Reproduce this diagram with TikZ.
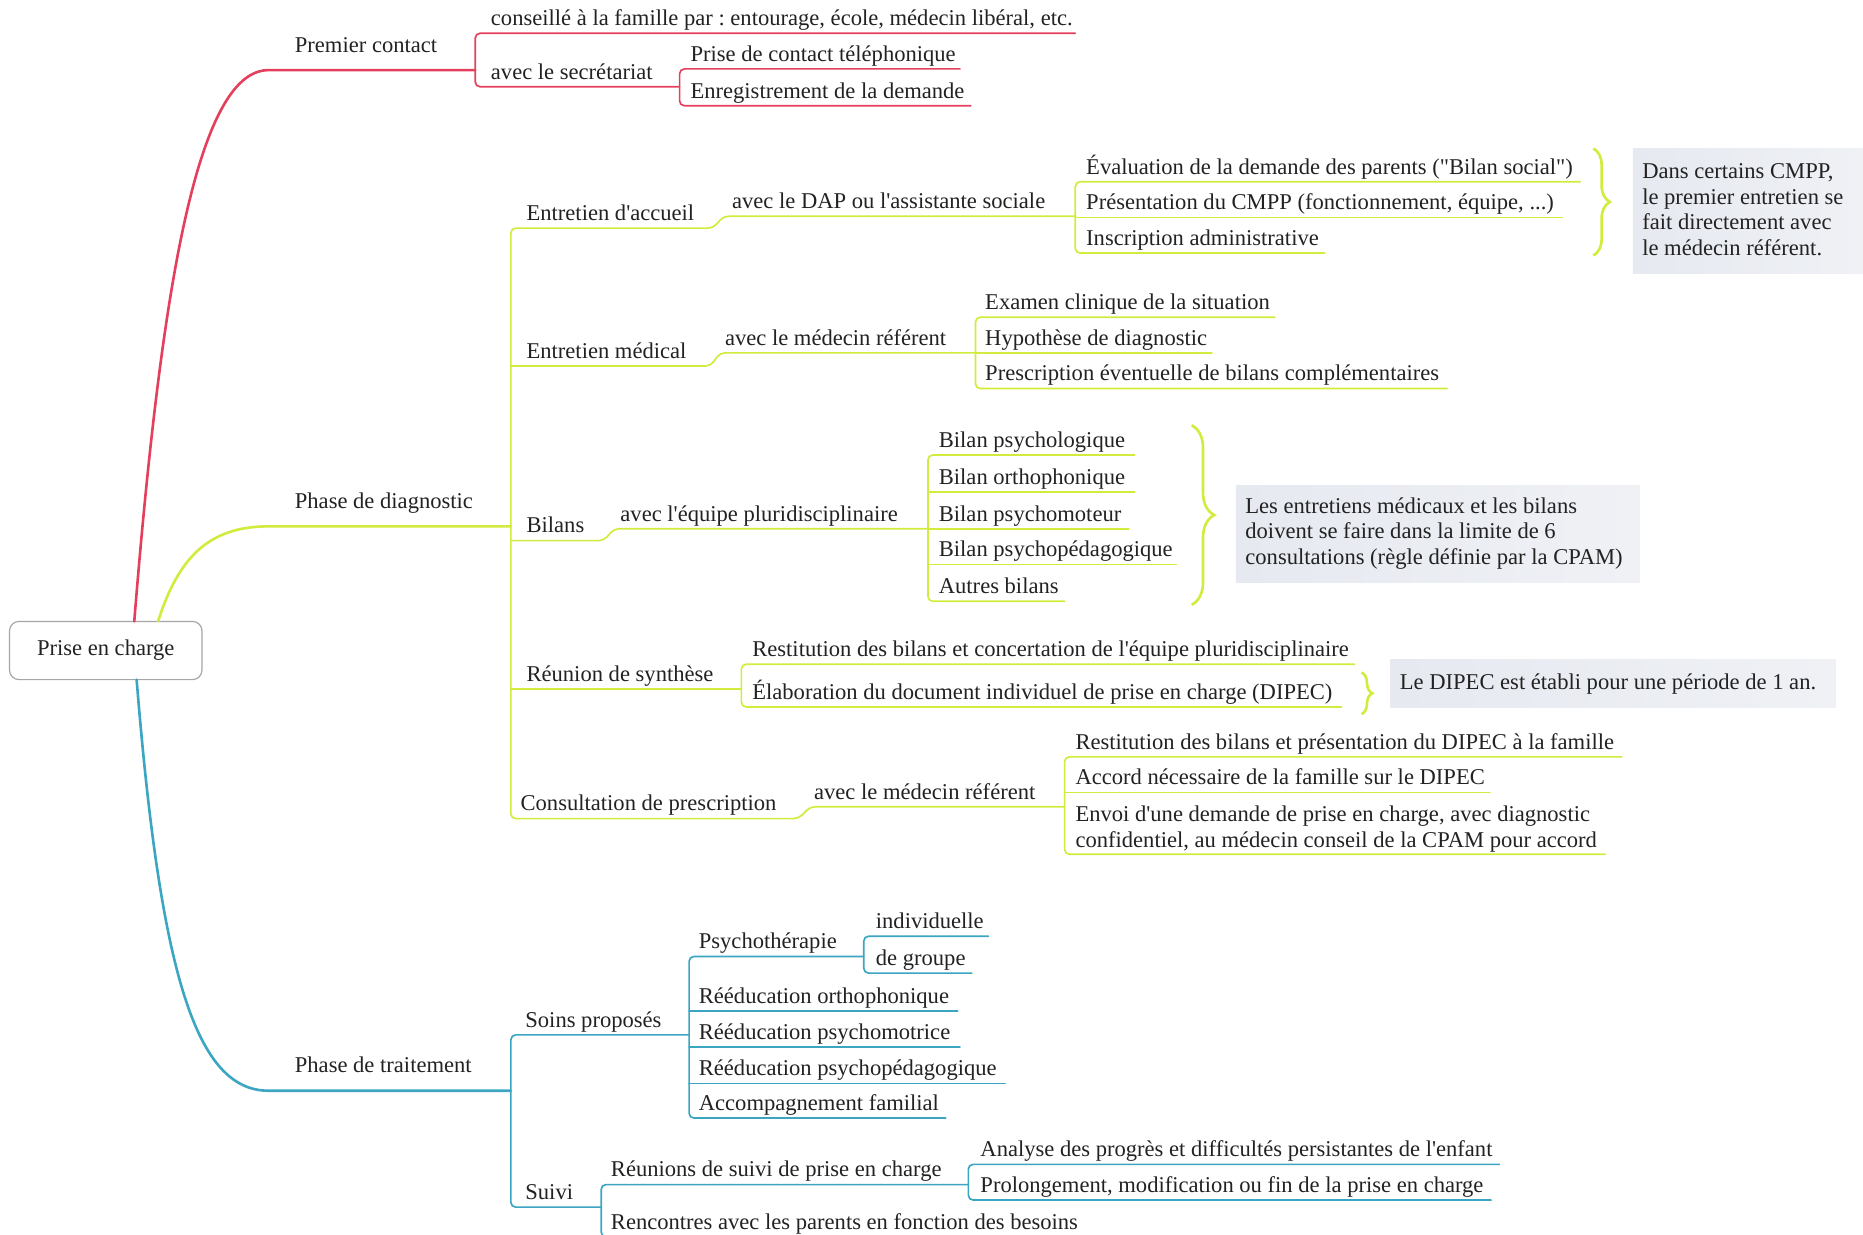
\documentclass[tikz,border=0pt]{standalone}
\usepackage{fontspec}
\setmainfont{Liberation Serif}[Ligatures=TeXOff]
\usetikzlibrary{decorations.pathreplacing}
\definecolor{cred}{HTML}{E4405E}
\definecolor{cyel}{HTML}{D3EB3C}
\definecolor{cteal}{HTML}{3CA5C2}
\definecolor{tcol}{HTML}{222222}
\definecolor{nfillA}{HTML}{E6E9F0}
\definecolor{nfillB}{HTML}{EFF1F5}
\frenchspacing
\tikzset{
  txt/.style={anchor=base west, inner sep=0pt, font=\fontsize{19}{21.5}\selectfont, text=tcol},
  mtxt/.style={txt, anchor=north west, align=left},
  ln/.style={line width=1.4pt, rounded corners=4pt, line cap=round},
  lr/.style={ln, draw=cred},
  ly/.style={ln, draw=cyel},
  lt/.style={ln, draw=cteal},
  trunk/.style={line width=2.2pt},
  notebox/.style={anchor=north west, inner sep=0pt, left color=nfillA, right color=nfillB, draw=none},
  bracebr/.style={decorate, line width=2.2pt, draw=cyel},
  rootbox/.style={draw=black!35, line width=1pt, rounded corners=8pt, fill=white, minimum width=162pt, minimum height=49pt, inner sep=0pt, font=\fontsize{19}{21.5}\selectfont, text=tcol}
}
% name, xline, xtext, yline, xend, text
\newcommand\tp[6]{\coordinate (#1-s) at (#2,#4); \coordinate (#1-e) at (#5,#4); \node[txt] (#1) at (#3,#4-6.5) {#6};}
\newcommand\tpa[6]{\coordinate (#1-s) at (#2,#4); \coordinate (#1-e) at (#5,#4); \node[txt] (#1) at (#3,#4-15) {#6};}
\begin{document}
\begin{tikzpicture}[x=1pt,y=-1pt]
\useasboundingbox (0,0) rectangle (1568,1039);
% root
\node[rootbox] (root) at (89,547.5) {Prise en charge};
\coordinate (rR) at (113,523);
\coordinate (rY) at (133,523);
\coordinate (rT) at (115,572);

% ---------- red branch
\tpa{pc}{230}{248}{59}{400}{Premier contact}
\tp{pc1}{400}{413}{28}{905}{conseillé à la famille par : entourage, école, médecin libéral, etc.}
\tp{pc2}{400}{413}{73}{572}{avec le secrétariat}
\tp{pc2a}{572}{581}{58}{808}{Prise de contact téléphonique}
\tp{pc2b}{572}{581}{89}{817}{Enregistrement de la demande}
\draw[lr,trunk] (rR) .. controls (135,250) and (165,59) .. (pc-s) -- (pc-e);
\draw[lr] (pc1-e) -- (pc1-s) -- (pc2-s) -- (pc2-e);
\draw[lr] (pc2a-e) -- (pc2a-s) -- (pc2b-s) -- (pc2b-e);

% ---------- yellow branch
\tpa{pd}{230}{248}{443}{430}{Phase de diagnostic}
\tp{ea}{430}{443}{192}{600}{Entretien d'accueil}
\tp{ea1}{609}{616}{182}{905}{avec le DAP ou l'assistante sociale}
\tp{ea1a}{905}{914}{153}{1330}{Évaluation de la demande des parents ("Bilan social")}
\tp{ea1b}{905}{914}{183}{1315}{Présentation du CMPP (fonctionnement, équipe, ...)}
\tp{ea1c}{905}{914}{213}{1115}{Inscription administrative}
\tp{em}{430}{443}{308}{598}{Entretien médical}
\tp{em1}{606}{610}{297}{821}{avec le médecin référent}
\tp{em1a}{821}{829}{267}{1073}{Examen clinique de la situation}
\tp{em1b}{821}{829}{297}{1020}{Hypothèse de diagnostic}
\tp{em1c}{821}{829}{327}{1218}{Prescription éventuelle de bilans complémentaires}
\tp{bi}{430}{443}{455}{508}{Bilans}
\tp{bi1}{517}{522}{445}{781}{avec l'équipe pluridisciplinaire}
\tp{bi1a}{781}{790}{383}{955}{Bilan psychologique}
\tp{bi1b}{781}{790}{414}{955}{Bilan orthophonique}
\tp{bi1c}{781}{790}{445}{950}{Bilan psychomoteur}
\tp{bi1d}{781}{790}{475}{990}{Bilan psychopédagogique}
\tp{bi1e}{781}{790}{506}{896}{Autres bilans}
\tp{rs}{430}{443}{580}{624}{Réunion de synthèse}
\tp{rsa}{624}{633}{559}{1140}{Restitution des bilans et concertation de l'équipe pluridisciplinaire}
\tp{rsb}{624}{633}{595}{1129}{Élaboration du document individuel de prise en charge (DIPEC)}
\tp{cp}{430}{438}{689}{672}{Consultation de prescription}
\tp{cp1}{682}{685}{679}{896}{avec le médecin référent}
\tp{cp1a}{896}{905}{637}{1365}{Restitution des bilans et présentation du DIPEC à la famille}
\tp{cp1b}{896}{905}{667}{1254}{Accord nécessaire de la famille sur le DIPEC}
\coordinate (cp1c-s) at (896,719); \coordinate (cp1c-e) at (1351,719);
\node[mtxt] (cp1c) at (905,678) {Envoi d'une demande de prise en charge, avec diagnostic\\confidentiel, au médecin conseil de la CPAM pour accord};

\draw[ly,trunk] (rY) .. controls (150,470) and (175,443) .. (pd-s) -- (pd-e);
\draw[ly] (ea1-e) -- (ea1-s) -- (ea-e) -- (ea-s) -- (cp-s) -- (cp-e) -- (cp1-s) -- (cp1-e);
\draw[ly] (em-s) -- (em-e) -- (em1-s) -- (em1-e);
\draw[ly] (bi-s) -- (bi-e) -- (bi1-s) -- (bi1-e);
\draw[ly] (rs-s) -- (rs-e);
\draw[ly] (ea1a-e) -- (ea1a-s) -- (ea1c-s) -- (ea1c-e);
\draw[ly] (ea1b-s) -- (ea1b-e);
\draw[ly] (em1a-e) -- (em1a-s) -- (em1c-s) -- (em1c-e);
\draw[ly] (em1b-s) -- (em1b-e);
\draw[ly] (bi1a-e) -- (bi1a-s) -- (bi1e-s) -- (bi1e-e);
\draw[ly] (bi1b-s) -- (bi1b-e);
\draw[ly] (bi1c-s) -- (bi1c-e);
\draw[ly] (bi1d-s) -- (bi1d-e);
\draw[ly] (rsa-e) -- (rsa-s) -- (rsb-s) -- (rsb-e);
\draw[ly] (cp1a-e) -- (cp1a-s) -- (cp1c-s) -- (cp1c-e);
\draw[ly] (cp1b-s) -- (cp1b-e);

% braces and notes
\coordinate (b1t) at (1341,125); \coordinate (b1b) at (1341,215);
\draw[bracebr, decoration={brace, amplitude=14pt}] (b1t) -- (b1b);
\node[notebox, minimum width=194pt, minimum height=105pt] (n1) at (1374,125) {};
\node[mtxt] (n1t) at (1382,137.5) {Dans certains CMPP,\\le premier entretien se\\fait directement avec\\le médecin référent.};
\coordinate (b2t) at (1003,358); \coordinate (b2b) at (1003,509);
\draw[bracebr, decoration={brace, amplitude=19pt}] (b2t) -- (b2b);
\node[notebox, minimum width=340pt, minimum height=82pt] (n2) at (1040,408) {};
\node[mtxt] (n2t) at (1048,418.5) {Les entretiens médicaux et les bilans\\doivent se faire dans la limite de 6\\consultations (règle définie par la CPAM)};
\coordinate (b3t) at (1146,566); \coordinate (b3b) at (1146,601);
\draw[bracebr, decoration={brace, amplitude=9pt}] (b3t) -- (b3b);
\node[notebox, minimum width=375pt, minimum height=40pt] (n3) at (1170,555) {};
\node[txt] (n3t) at (1178,580) {Le DIPEC est établi pour une période de 1 an.};

% ---------- teal branch
\tpa{pt}{230}{248}{918}{430}{Phase de traitement}
\tp{sp}{430}{442}{871}{580}{Soins proposés}
\tp{ps}{580}{588}{805}{727}{Psychothérapie}
\tp{psa}{727}{737}{788}{832}{individuelle}
\tp{psb}{727}{737}{819}{818}{de groupe}
\tp{ro}{580}{588}{851}{806}{Rééducation orthophonique}
\tp{rp}{580}{588}{881}{808}{Rééducation psychomotrice}
\tp{rpp}{580}{588}{912}{846}{Rééducation psychopédagogique}
\tp{af}{580}{588}{941}{796}{Accompagnement familial}
\tp{su}{430}{442}{1016}{506}{Suivi}
\tp{rsu}{506}{514}{997}{815}{Réunions de suivi de prise en charge}
\tp{rsua}{815}{825}{980}{1262}{Analyse des progrès et difficultés persistantes de l'enfant}
\tp{rsub}{815}{825}{1010}{1255}{Prolongement, modification ou fin de la prise en charge}
\tp{ren}{506}{514}{1041}{912}{Rencontres avec les parents en fonction des besoins}

\draw[lt,trunk] (rT) .. controls (135,820) and (165,918) .. (pt-s) -- (pt-e);
\draw[lt] (sp-e) -- (sp-s) -- (su-s) -- (su-e);
\draw[lt] (ps-e) -- (ps-s) -- (af-s) -- (af-e);
\draw[lt] (ro-s) -- (ro-e);
\draw[lt] (rp-s) -- (rp-e);
\draw[lt] (rpp-s) -- (rpp-e);
\draw[lt] (psa-e) -- (psa-s) -- (psb-s) -- (psb-e);
\draw[lt] (rsu-e) -- (rsu-s) -- (ren-s) -- (ren-e);
\draw[lt] (rsua-e) -- (rsua-s) -- (rsub-s) -- (rsub-e);
\end{tikzpicture}
\end{document}
